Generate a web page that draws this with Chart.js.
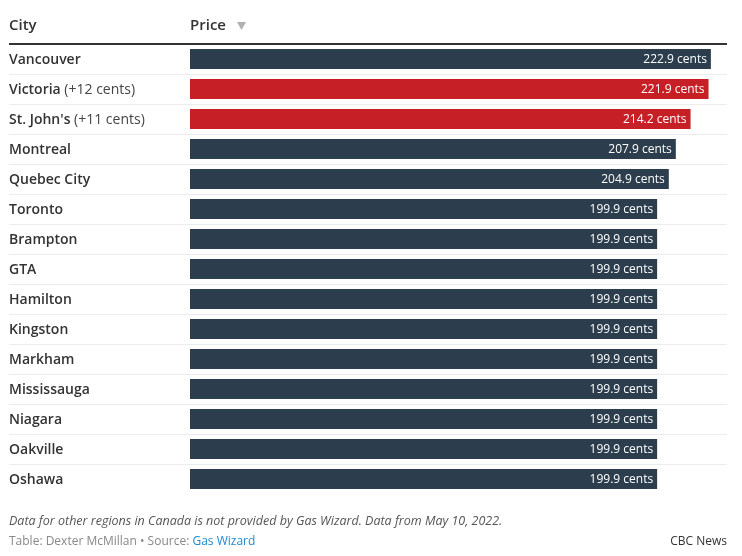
<!DOCTYPE html>
<html><head><meta charset="utf-8">
<script src="https://cdn.jsdelivr.net/npm/chart.js@4/dist/chart.umd.min.js"></script>
<style>html,body{margin:0;padding:0;background:#fff;}canvas{display:block;}</style>
</head><body>
<canvas id="c" width="742" height="556"></canvas>
<script>
const cities = ["Vancouver","Victoria","St. John's","Montreal","Quebec City","Toronto","Brampton","GTA","Hamilton","Kingston","Markham","Mississauga","Niagara","Oakville","Oshawa"];
const notes = ["","(+12 cents)","(+11 cents)","","","","","","","","","","","",""];
const prices = [222.9,221.9,214.2,207.9,204.9,199.9,199.9,199.9,199.9,199.9,199.9,199.9,199.9,199.9,199.9];
const highlighted = [false,true,true,false,false,false,false,false,false,false,false,false,false,false,false];
const headers = ["City","Price"];
const footNote = "Data for other regions in Canada is not provided by Gas Wizard. Data from May 10, 2022.";
const credit = "Table: Dexter McMillan \u2022 Source: ";
const sourceName = "Gas Wizard";
const publisher = "CBC News";

const FONT = "'Open Sans', sans-serif";
const DARK = "#2c3e4d", RED = "#c62026";

const tablePlugin = {
  id: "tableDecor",
  beforeDatasetsDraw(chart) {
    const ctx = chart.ctx, y = chart.scales.y, area = chart.chartArea;
    ctx.save();
    // row separators
    ctx.strokeStyle = "#ececec"; ctx.lineWidth = 1;
    for (let i = 0; i < cities.length - 1; i++) {
      const yy = Math.round((y.getPixelForValue(i) + y.getPixelForValue(i + 1)) / 2) + 0.5;
      ctx.beginPath(); ctx.moveTo(9, yy); ctx.lineTo(727, yy); ctx.stroke();
    }
    // header
    ctx.fillStyle = "#333"; ctx.textBaseline = "middle";
    ctx.font = "600 15px " + FONT;
    ctx.fillText(headers[0], 9, 26);
    ctx.fillText(headers[1], area.left, 26);
    const pw = ctx.measureText(headers[1]).width;
    ctx.fillStyle = "#b0b0b0";
    ctx.beginPath(); ctx.moveTo(area.left + pw + 11, 22); ctx.lineTo(area.left + pw + 20, 22); ctx.lineTo(area.left + pw + 15.5, 30); ctx.closePath(); ctx.fill();
    ctx.strokeStyle = "#333"; ctx.lineWidth = 2;
    ctx.beginPath(); ctx.moveTo(9, 44); ctx.lineTo(727, 44); ctx.stroke();
    // row labels
    for (let i = 0; i < cities.length; i++) {
      const yy = y.getPixelForValue(i) + 1;
      ctx.font = "600 14px " + FONT; ctx.fillStyle = "#333";
      ctx.fillText(cities[i], 9, yy);
      if (notes[i]) {
        const w = ctx.measureText(cities[i] + " ").width;
        ctx.font = "400 14px " + FONT; ctx.fillStyle = "#444";
        ctx.fillText(notes[i], 9 + w, yy);
      }
    }
    // footer
    ctx.font = "italic 12.5px " + FONT; ctx.fillStyle = "#555";
    ctx.fillText(footNote, 9, 521);
    ctx.font = "12px " + FONT; ctx.fillStyle = "#888";
    ctx.fillText(credit, 9, 542);
    const cw = ctx.measureText(credit).width;
    ctx.fillStyle = "#1d8ad0";
    ctx.fillText(sourceName, 9 + cw, 542);
    ctx.fillStyle = "#333"; ctx.textAlign = "right";
    ctx.fillText(publisher, 727, 542);
    ctx.restore();
  },
  afterDatasetsDraw(chart) {
    const ctx = chart.ctx, meta = chart.getDatasetMeta(0);
    ctx.save();
    ctx.font = "12px " + FONT; ctx.fillStyle = "#fff";
    ctx.textAlign = "right"; ctx.textBaseline = "middle";
    meta.data.forEach((bar, i) => {
      ctx.fillText(prices[i].toFixed(1) + " cents", bar.x - 4, bar.y + 1);
    });
    ctx.restore();
  }
};

new Chart(document.getElementById("c"), {
  type: "bar",
  data: {
    labels: cities,
    datasets: [{
      data: prices,
      backgroundColor: highlighted.map(h => h ? RED : DARK),
      borderWidth: 0,
      barPercentage: 0.667,
      categoryPercentage: 1
    }]
  },
  options: {
    indexAxis: "y",
    responsive: false,
    animation: false,
    layout: { padding: { left: 190, right: 15, top: 44, bottom: 62 } },
    plugins: { legend: { display: false }, tooltip: { enabled: false } },
    scales: {
      x: { display: false, min: 0, max: 229.8 },
      y: { display: false }
    }
  },
  plugins: [tablePlugin]
});
</script>
</body></html>
